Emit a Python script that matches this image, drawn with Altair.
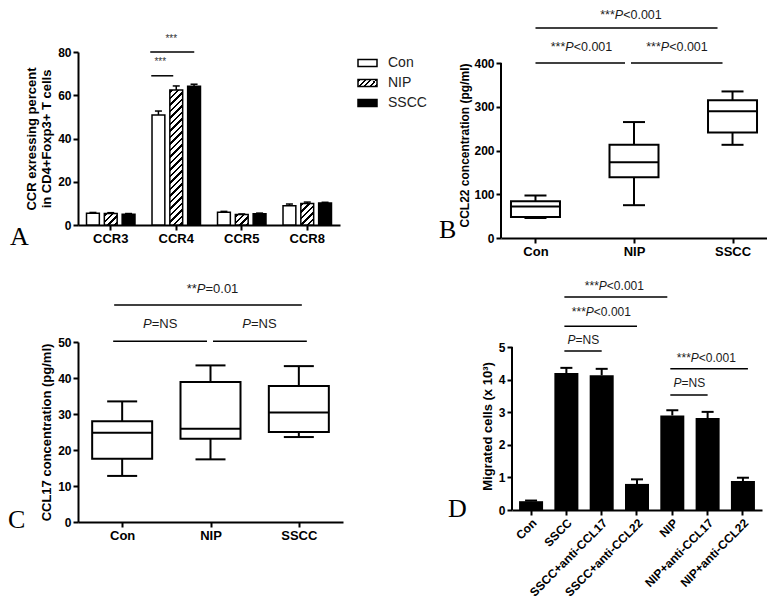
import altair as alt
import pandas as pd

FONT = "Liberation Sans"
SERIF = "Liberation Serif"

# ---------------- data ----------------
# Panel A: CCR expression (mean + SEM)
a_receptors = ["CCR3", "CCR4", "CCR5", "CCR8"]
a_groups = ["Con", "NIP", "SSCC"]
a_con = [5.4, 50.9, 5.9, 8.9]
a_con_sem = [0.4, 1.8, 0.4, 0.8]
a_nip = [5.3, 62.4, 4.8, 9.9]
a_nip_sem = [0.4, 1.9, 0.3, 0.7]
a_sscc = [5.0, 64.2, 5.2, 10.2]
a_sscc_sem = [0.3, 0.9, 0.3, 0.3]
a_y_ticks = [0, 20, 40, 60, 80]

# Panel B: CCL22 box plots
b_groups = ["Con", "NIP", "SSCC"]
b_min = [46, 75, 213]
b_q1 = [48, 139, 241]
b_med = [72, 173, 290]
b_q3 = [84, 213, 315]
b_max = [97, 265, 335]
b_y_ticks = [0, 100, 200, 300, 400]

# Panel C: CCL17 box plots
c_groups = ["Con", "NIP", "SSCC"]
c_min = [12.8, 17.4, 23.6]
c_q1 = [17.6, 23.1, 25.0]
c_med = [24.8, 25.9, 30.4]
c_q3 = [28.0, 38.9, 37.8]
c_max = [33.5, 43.5, 43.3]
c_y_ticks = [0, 10, 20, 30, 40, 50]

# Panel D: migrated cells (mean + SEM)
d_groups = ["Con", "SSCC", "SSCC+anti-CCL17", "SSCC+anti-CCL22",
            "NIP", "NIP+anti-CCL17", "NIP+anti-CCL22"]
d_mean = [0.27, 4.20, 4.13, 0.80, 2.90, 2.82, 0.89]
d_sem = [0.02, 0.16, 0.20, 0.14, 0.16, 0.19, 0.10]
d_y_ticks = [0, 1, 2, 3, 4, 5]

# ---------------- sizes ----------------
W_A, H_A = 262, 173
W_B, H_B = 266, 186
B_TOP = 400 * 186 / 175
W_C, H_C = 265, 180
W_D, H_D = 250, 168
D_TOP = 5 * 168 / 163

CW = {'*': 0.389, 'P': 0.667, '<': 0.584, '=': 0.584, '0': 0.556,
      '1': 0.556, '.': 0.278, 'N': 0.722, 'S': 0.667}


def seg_w(s, size):
    return sum(CW.get(ch, 0.556) for ch in s) * size


def sig_text(xfn, yfn, cat, yv, label, dx_center, size=12):
    if label.startswith("***"):
        segs = [("***", False), ("P", True), (label[4:], False)]
    elif label.startswith("**"):
        segs = [("**", False), ("P", True), (label[3:], False)]
    else:
        segs = [("P", True), (label[1:], False)]
    total = sum(seg_w(s, size) for s, _ in segs)
    start = dx_center - total / 2
    df = pd.DataFrame({"cat": [cat], "val": [yv]})
    out = []
    for s, it in segs:
        out.append(
            alt.Chart(df).mark_text(
                text=s, align="left", baseline="middle", dx=start, font=FONT,
                fontSize=size, fontStyle="italic" if it else "normal", color="#1a1a1a"
            ).encode(x=xfn(), y=yfn("val"))
        )
        start += seg_w(s, size)
    return out


def hatch(w, h, period=6.5, thick=2.2):
    total = w + h
    k = total / (w * w + h * h)
    stops = [alt.GradientStop(offset=0, color="white")]
    a = 1.0
    while a < total:
        b = min(a + thick, total)
        stops += [
            alt.GradientStop(offset=a / total, color="white"),
            alt.GradientStop(offset=a / total, color="black"),
            alt.GradientStop(offset=b / total, color="black"),
            alt.GradientStop(offset=b / total, color="white"),
        ]
        a += period
    stops.append(alt.GradientStop(offset=1, color="white"))
    return alt.LinearGradient(gradient="linear", stops=stops, x1=0, y1=0, x2=w * k, y2=h * k)


def letter(ch, x, y):
    return alt.Chart(pd.DataFrame({"k": [ch]})).mark_text(
        text=ch, font=SERIF, fontSize=26, align="left", baseline="alphabetic", color="black"
    ).encode(x=alt.value(x), y=alt.value(y))


def tick(size, thickness=2, **kw):
    return dict(size=size, thickness=thickness, color="black", opacity=1, orient="horizontal", **kw)


# ---------------- Panel A ----------------
dfA = pd.DataFrame({
    "cat": a_receptors * 3,
    "grp": ["Con"] * 4 + ["NIP"] * 4 + ["SSCC"] * 4,
    "val": a_con + a_nip + a_sscc,
    "sem": a_con_sem + a_nip_sem + a_sscc_sem,
})
dfA["top"] = dfA["val"] + dfA["sem"]

A_PI, A_PO, A_PI2 = 0.26, 0.13, 0.28


def xA():
    return alt.X("cat:N", scale=alt.Scale(domain=a_receptors, paddingInner=A_PI, paddingOuter=A_PO),
                 axis=alt.Axis(title=None, labelAngle=0, labelFontSize=13))


def xoA():
    return alt.XOffset("grp:N", scale=alt.Scale(domain=a_groups, paddingInner=A_PI2, paddingOuter=0))


def yA(f="val"):
    return alt.Y(f"{f}:Q", scale=alt.Scale(domain=[0, 80], nice=False),
                 axis=alt.Axis(title=["CCR exressing percent", "in CD4+Foxp3+ T cells"],
                               values=a_y_ticks, titlePadding=4, titleFontSize=13))


baseA = alt.Chart(dfA)
layersA = [
    baseA.mark_rule(color="black", strokeWidth=1.5).encode(x=xA(), xOffset=xoA(), y=yA("val"), y2="top"),
    baseA.mark_tick(**tick(7, 1.5)).encode(x=xA(), xOffset=xoA(), y=yA("top")),
    baseA.transform_filter(alt.datum.grp == "Con").mark_bar(
        fill="white", stroke="black", strokeWidth=1.5).encode(x=xA(), xOffset=xoA(), y=yA()),
    baseA.transform_filter(alt.datum.grp == "SSCC").mark_bar(
        fill="black", stroke="black", strokeWidth=1.5).encode(x=xA(), xOffset=xoA(), y=yA()),
]
stepA = W_A / (len(a_receptors) - A_PI + 2 * A_PO)
bwA = stepA * (1 - A_PI) / (3 - A_PI2) * (1 - A_PI2)
for r, v in zip(a_receptors, a_nip):
    layersA.append(
        baseA.transform_filter((alt.datum.grp == "NIP") & (alt.datum.cat == r)).mark_bar(
            fill=hatch(bwA, v * H_A / 80), stroke="black", strokeWidth=1.5
        ).encode(x=xA(), xOffset=xoA(), y=yA())
    )
sigA = pd.DataFrame({"cat": ["CCR4"], "val": [80.0]})
sigA2 = pd.DataFrame({"cat": ["CCR4"], "val": [69.0]})
layersA += [
    alt.Chart(sigA).mark_tick(**tick(44, 1.5, xOffset=-4)).encode(x=xA(), y=yA("val")),
    alt.Chart(sigA2).mark_tick(**tick(22, 1.5, xOffset=-14)).encode(x=xA(), y=yA("val")),
    alt.Chart(pd.DataFrame({"cat": ["CCR4"], "val": [86.0]})).mark_text(
        text="***", fontSize=10, font=FONT, color="#333", dx=-5, baseline="middle").encode(x=xA(), y=yA("val")),
    alt.Chart(pd.DataFrame({"cat": ["CCR4"], "val": [75.5]})).mark_text(
        text="***", fontSize=10, font=FONT, color="#333", dx=-16, baseline="middle").encode(x=xA(), y=yA("val")),
]
# legend
for i, g in enumerate(a_groups):
    yc = 11 + 20 * i
    fill = {"Con": "white", "NIP": hatch(19, 7, period=5.5, thick=2.0), "SSCC": "black"}[g]
    layersA.append(
        alt.Chart(pd.DataFrame({"k": [g]})).mark_rect(fill=fill, stroke="black", strokeWidth=1.5).encode(
            x=alt.value(W_A + 18), x2=alt.value(W_A + 37), y=alt.value(yc - 3.5), y2=alt.value(yc + 3.5))
    )
    layersA.append(
        alt.Chart(pd.DataFrame({"k": [g]})).mark_text(
            text=g, align="left", baseline="middle", font=FONT, fontSize=14, color="#222").encode(
            x=alt.value(W_A + 48), y=alt.value(yc))
    )
layersA.append(letter("A", -68, H_A + 20))
panelA = alt.layer(*layersA).properties(width=W_A, height=H_A)


# ---------------- box plot helper ----------------
def box_panel(groups, mn, q1, med, q3, mx, xfn, yfn, box_w, cap_w, top_val):
    df = pd.DataFrame({"cat": groups, "mn": mn, "q1": q1, "med": med, "q3": q3, "mx": mx})
    base = alt.Chart(df)
    axis_line = alt.Chart(pd.DataFrame({"lo": [0], "hi": [top_val]})).mark_rule(
        color="black", strokeWidth=2).encode(x=alt.value(0), y=yfn("lo"), y2="hi")
    return [
        base.mark_rule(color="black", strokeWidth=2).encode(x=xfn(), y=yfn("mn"), y2="q1"),
        base.mark_rule(color="black", strokeWidth=2).encode(x=xfn(), y=yfn("q3"), y2="mx"),
        base.mark_bar(size=box_w, fill="white", stroke="black", strokeWidth=2).encode(
            x=xfn(), y=yfn("q1"), y2="q3"),
        base.mark_tick(**tick(box_w)).encode(x=xfn(), y=yfn("med")),
        base.mark_tick(**tick(cap_w)).encode(x=xfn(), y=yfn("mn")),
        base.mark_tick(**tick(cap_w)).encode(x=xfn(), y=yfn("mx")),
    ], axis_line


def hline(xfn, yfn, c1, c2, yv, xo=0, x2o=0, w=1.5):
    return alt.Chart(pd.DataFrame({"cat": [c1], "cat2": [c2], "val": [yv]})).mark_rule(
        color="black", strokeWidth=w, xOffset=xo, x2Offset=x2o).encode(x=xfn(), x2="cat2", y=yfn("val"))


# ---------------- Panel B ----------------
def xB():
    return alt.X("cat:N", scale=alt.Scale(type="point", domain=b_groups, padding=0.35),
                 axis=alt.Axis(title=None, labelAngle=0, labelFontSize=13))


def yB(f="val"):
    return alt.Y(f"{f}:Q", scale=alt.Scale(domain=[0, B_TOP], nice=False),
                 axis=alt.Axis(title="CCL22 concentration (pg/ml)", values=b_y_ticks, domain=False,
                               titleFontSize=12, titlePadding=2))


boxB, axB = box_panel(b_groups, b_min, b_q1, b_med, b_q3, b_max, xB, yB, 49, 22, 400)
layersB = boxB + [axB,
                  hline(xB, yB, "Con", "NIP", 400, 0, -9),
                  hline(xB, yB, "NIP", "SSCC", 400, -3, -10),
                  hline(xB, yB, "Con", "SSCC", 480, 0, -15)]
layersB += sig_text(xB, yB, "NIP", 510, "***P<0.001", -3, 12.5)
layersB += sig_text(xB, yB, "Con", 437, "***P<0.001", 46, 12.5)
layersB += sig_text(xB, yB, "NIP", 437, "***P<0.001", 43, 12.5)
layersB.append(letter("B", -62, H_B))
panelB = alt.layer(*layersB).properties(width=W_B, height=H_B)


# ---------------- Panel C ----------------
def xC():
    return alt.X("cat:N", scale=alt.Scale(type="point", domain=c_groups, padding=0.5),
                 axis=alt.Axis(title=None, labelAngle=0, labelFontSize=13))


def yC(f="val"):
    return alt.Y(f"{f}:Q", scale=alt.Scale(domain=[0, 50], nice=False),
                 axis=alt.Axis(title="CCL17 concentration (pg/ml)", values=c_y_ticks,
                               titleFontSize=13, titlePadding=4))


boxC, _ = box_panel(c_groups, c_min, c_q1, c_med, c_q3, c_max, xC, yC, 60, 30, 50)
layersC = boxC + [hline(xC, yC, "Con", "NIP", 50.2, -9, -3.5),
                  hline(xC, yC, "NIP", "SSCC", 50.2, 2.5, 8),
                  hline(xC, yC, "Con", "SSCC", 60.3, -8, 3)]
layersC += sig_text(xC, yC, "NIP", 64.7, "**P=0.01", 2, 13)
layersC += sig_text(xC, yC, "Con", 55, "P=NS", 38, 13)
layersC += sig_text(xC, yC, "NIP", 55, "P=NS", 49, 13)
layersC.append(letter("C", -70, H_C + 6))
panelC = alt.layer(*layersC).properties(width=W_C, height=H_C)


# ---------------- Panel D ----------------
def xD():
    return alt.X("cat:N", scale=alt.Scale(domain=d_groups, paddingInner=0.32, paddingOuter=0.2),
                 axis=alt.Axis(title=None, labelAngle=-45, labelFontSize=12))


def yD(f="val"):
    return alt.Y(f"{f}:Q", scale=alt.Scale(domain=[0, D_TOP], nice=False),
                 axis=alt.Axis(title="Migrated cells (x 10³)", values=d_y_ticks, domain=False,
                               titleFontSize=13, titlePadding=4))


dfD = pd.DataFrame({"cat": d_groups, "val": d_mean, "sem": d_sem})
dfD["top"] = dfD["val"] + dfD["sem"]
baseD = alt.Chart(dfD)
layersD = [
    baseD.mark_rule(color="black", strokeWidth=2).encode(x=xD(), y=yD("val"), y2="top"),
    baseD.mark_tick(**tick(12)).encode(x=xD(), y=yD("top")),
    baseD.mark_bar(fill="black").encode(x=xD(), y=yD("val")),
    alt.Chart(pd.DataFrame({"lo": [0], "hi": [5]})).mark_rule(color="black", strokeWidth=2).encode(
        x=alt.value(0), y=yD("lo"), y2="hi"),
    hline(xD, yD, "SSCC", "NIP", 6.53, -2, -5),
    hline(xD, yD, "SSCC", "SSCC+anti-CCL22", 5.64, -2, 0),
    hline(xD, yD, "SSCC", "SSCC+anti-CCL17", 4.88, -2, 0),
    hline(xD, yD, "NIP", "NIP+anti-CCL22", 4.33, -2, 5),
    hline(xD, yD, "NIP", "NIP+anti-CCL17", 3.53, -2, 0),
]
layersD += sig_text(xD, yD, "SSCC", 6.87, "***P<0.001", 48, 12)
layersD += sig_text(xD, yD, "SSCC", 6.07, "***P<0.001", 35, 12)
layersD += sig_text(xD, yD, "SSCC", 5.21, "P=NS", 17, 12)
layersD += sig_text(xD, yD, "NIP", 4.66, "***P<0.001", 34, 12)
layersD += sig_text(xD, yD, "NIP", 3.90, "P=NS", 17, 12)
layersD.append(letter("D", -64, H_D + 7))
panelD = alt.layer(*layersD).properties(width=W_D, height=H_D)

# ---------------- layout ----------------
row1 = alt.hconcat(panelA, panelB, spacing=161, bounds="flush")
row2 = alt.hconcat(panelC, panelD, spacing=169, bounds="flush")
chart = alt.vconcat(row1, row2, spacing=22).properties(
    padding=0, background="white"
).configure_view(stroke=None).configure_axis(
    domainColor="black", domainWidth=2, tickColor="black", tickWidth=2, tickSize=5,
    labelFont=FONT, labelFontSize=12, labelFontWeight="bold", labelColor="black", labelPadding=2,
    titleFont=FONT, titleFontWeight="bold", titleFontSize=13, titleColor="black", grid=False,
)

chart.save("out.html", embed_options={"renderer": "svg", "actions": False})
